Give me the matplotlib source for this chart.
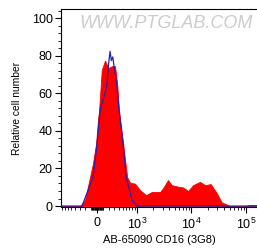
import numpy as np
import matplotlib
matplotlib.use("Agg")
import matplotlib.pyplot as plt

plt.rcParams["font.family"] = ["Liberation Sans", "DejaVu Sans"]
plt.rcParams["mathtext.fontset"] = "custom"
plt.rcParams["mathtext.rm"] = "Liberation Sans"
plt.rcParams["mathtext.default"] = "regular"

# CD16 stained sample (red, filled)
red_x = [-835, -300, -203, -150, -65, -16, 16, 33, 77, 132, 190, 260, 321, 364,
         410, 513, 630, 726, 912, 1140, 1486, 1897, 2700, 3070, 3780, 4420,
         5760, 7100, 8770, 10800, 14500, 17850, 22650, 29100, 35900, 50800,
         95400, 117600, 157500]
red_y = [0, 0, 3.2, 10.5, 22.9, 33.1, 45.9, 50.8, 72.4, 77.4, 73.4, 74.4, 74.4, 65.6,
         50.8, 33.1, 15.4, 12.4, 11.9, 8.5, 5.8, 7.5, 7.5, 9.5, 13.8, 11.1,
         10.3, 9.9, 8.0, 11.1, 12.9, 11.1, 11.7, 6.9, 2.0, 0,
         0, 0.6, 0.6]

# isotype control (blue outline)
blue_x = [-835, -260, -65, 0, 49, 162, 194, 222, 246, 274, 300, 364, 410,
          513, 600, 795, 1000, 157500]
blue_y = [0, 0, 15.4, 33.1, 50.8, 63.6, 75.4, 82.3, 77.4, 79.3, 74.4, 63.6, 50.8,
          33.1, 15.4, 3.2, 0, 0]

C = 388.0


def fwd(x):
    return np.arcsinh(np.asarray(x, dtype=float) / C)


def inv(u):
    return C * np.sinh(u)


fig = plt.figure(figsize=(2.57, 2.48), dpi=100)
ax = fig.add_axes([61 / 257, 1 - 207 / 248, 196 / 257, 198 / 248])
ax.set_xscale("function", functions=(fwd, inv))
ax.set_xlim(-835, 157500)
ax.set_ylim(-0.5, 104.8)

ax.fill_between(red_x, red_y, 0, color="#ff0000", lw=0.6, zorder=2)
ax.plot(blue_x, blue_y, color="#2222aa", lw=0.9, zorder=3)

ax.set_xticks([0, 1e3, 1e4, 1e5])
ax.set_xticklabels(["0", "$10^{3}$", "$10^{4}$", "$10^{5}$"])
minor = []
for n in range(1, 5):
    for k in range(1, 10):
        v = k * 10 ** n
        if n == 3 and k == 1 or n == 4 and k == 1:
            continue
        minor += [v, -v]
minor = [m for m in minor if -835 < m < 157500]
ax.set_xticks(minor, minor=True)

ax.set_yticks([0, 20, 40, 60, 80, 100])
ax.set_yticks([m for m in range(0, 105, 4) if m % 20], minor=True)

ax.tick_params(which="major", length=4, width=0.8, labelsize=9, pad=2)
ax.tick_params(axis="x", which="major", pad=3)
ax.tick_params(which="minor", length=2.2, width=0.6)
ax.spines["right"].set_visible(False)
for s in ["left", "top", "bottom"]:
    ax.spines[s].set_linewidth(0.8)

ax.set_ylabel("Relative cell number", fontsize=7.4, labelpad=7)
ax.set_xlabel("AB-65090 CD16 (3G8)", fontsize=8, labelpad=2)

ax.text(0.535, 0.925, "WWW.PTGLAB.COM", transform=ax.transAxes, ha="center",
        va="center", fontsize=13, color="#cccccc", style="italic", zorder=1)

fig.savefig("out.png", dpi=100)
